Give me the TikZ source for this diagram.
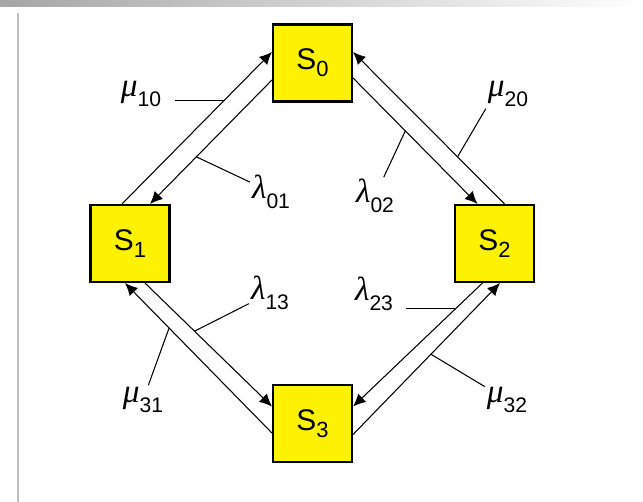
\documentclass[tikz,border=0pt]{standalone}
\usepackage{fontspec}
\setmainfont{Liberation Sans}
\newfontfamily\greekfont{Liberation Serif}
\usetikzlibrary{arrows.meta,calc}
\newcommand{\rate}[2]{{\greekfont\itshape #1}\raisebox{-0.55ex}{\fontsize{12}{12}\selectfont #2}}
\newcommand{\statelbl}[1]{S\raisebox{-0.45ex}{\fontsize{12.5}{12.5}\selectfont #1}}

\begin{document}
\begin{tikzpicture}[
  x=0.02cm, y=-0.02cm,
  state/.style={rectangle, draw=black, line width=1.2pt, fill=yellow,
                minimum width=1.58cm, minimum height=1.54cm,
                font=\fontsize{17}{17}\selectfont, inner sep=0pt},
  trans/.style={-{Latex[length=2.5mm,width=2.3mm]}, line width=0.6pt},
  lead/.style={line width=0.6pt},
  hlead/.style={lead, shorten <=6.5pt},
  rlbl/.style={font=\fontsize{19}{19}\selectfont, inner sep=1pt}
]
\useasboundingbox (0,0) rectangle (643,502);
\shade[left color=black!35, right color=white] (0,0) rectangle (643,7);
\draw[black!25, line width=0.6pt] (18,13) -- (18,502);

\node[state] (S0) at (312.5,63)  {\statelbl{0}};
\node[state] (S1) at (130,243.5) {\statelbl{1}};
\node[state] (S2) at (494.5,243.5) {\statelbl{2}};
\node[state] (S3) at (312.5,423.5) {\statelbl{3}};

% S0 <-> S1
\draw[trans] ($(S1.north)+(-8,0)$) -- coordinate[pos=0.68] (m10) ($(S0.west)+(0,-11)$);
\draw[trans] ($(S0.west)+(0,17)$)  -- coordinate[pos=0.62] (l01) ($(S1.north)+(20,0)$);
% S0 <-> S2
\draw[trans] ($(S2.north)+(10,0)$) -- coordinate[pos=0.31] (m20) ($(S0.east)+(0,-11)$);
\draw[trans] ($(S0.east)+(0,15)$)  -- coordinate[pos=0.42] (l02) ($(S2.north)+(-17,0)$);
% S1 <-> S3
\draw[trans] ($(S3.west)+(0,9.5)$) -- coordinate[pos=0.70] (m31) ($(S1.south)+(-5,0)$);
\draw[trans] ($(S1.south)+(15,0)$) -- coordinate[pos=0.39] (l13) ($(S3.west)+(0,-17)$);
% S2 <-> S3
\draw[trans] ($(S3.east)+(0,11)$)  -- coordinate[pos=0.53] (m32) ($(S2.south)+(5.5,0)$);
\draw[trans] ($(S2.south)+(-12,0)$) -- coordinate[pos=0.21] (l23) ($(S3.east)+(0,-17)$);

% rate labels
\node[rlbl] (lmu10) at (141,94)  {\rate{μ}{10}};
\node[rlbl] (ll01)  at (271,192) {\rate{λ}{01}};
\node[rlbl] (ll02)  at (375,196) {\rate{λ}{02}};
\node[rlbl] (lmu20) at (508,94)  {\rate{μ}{20}};
\node[rlbl] (ll13)  at (270,293) {\rate{λ}{13}};
\node[rlbl] (lmu31) at (143,400) {\rate{μ}{31}};
\node[rlbl] (ll23)  at (374,294) {\rate{λ}{23}};
\node[rlbl] (lmu32) at (507,400) {\rate{μ}{32}};

\draw[hlead] (lmu10.east |- m10) -- (m10);
\draw[lead]  (ll01) -- (l01);
\draw[lead]  (ll02) -- (l02);
\draw[lead]  (lmu20.south west) -- (m20);
\draw[lead]  (ll13) -- (l13);
\draw[lead]  (lmu31) -- (m31);
\draw[hlead] (ll23.east |- l23) -- (l23);
\draw[lead]  (lmu32) -- (m32);
\end{tikzpicture}
\end{document}
